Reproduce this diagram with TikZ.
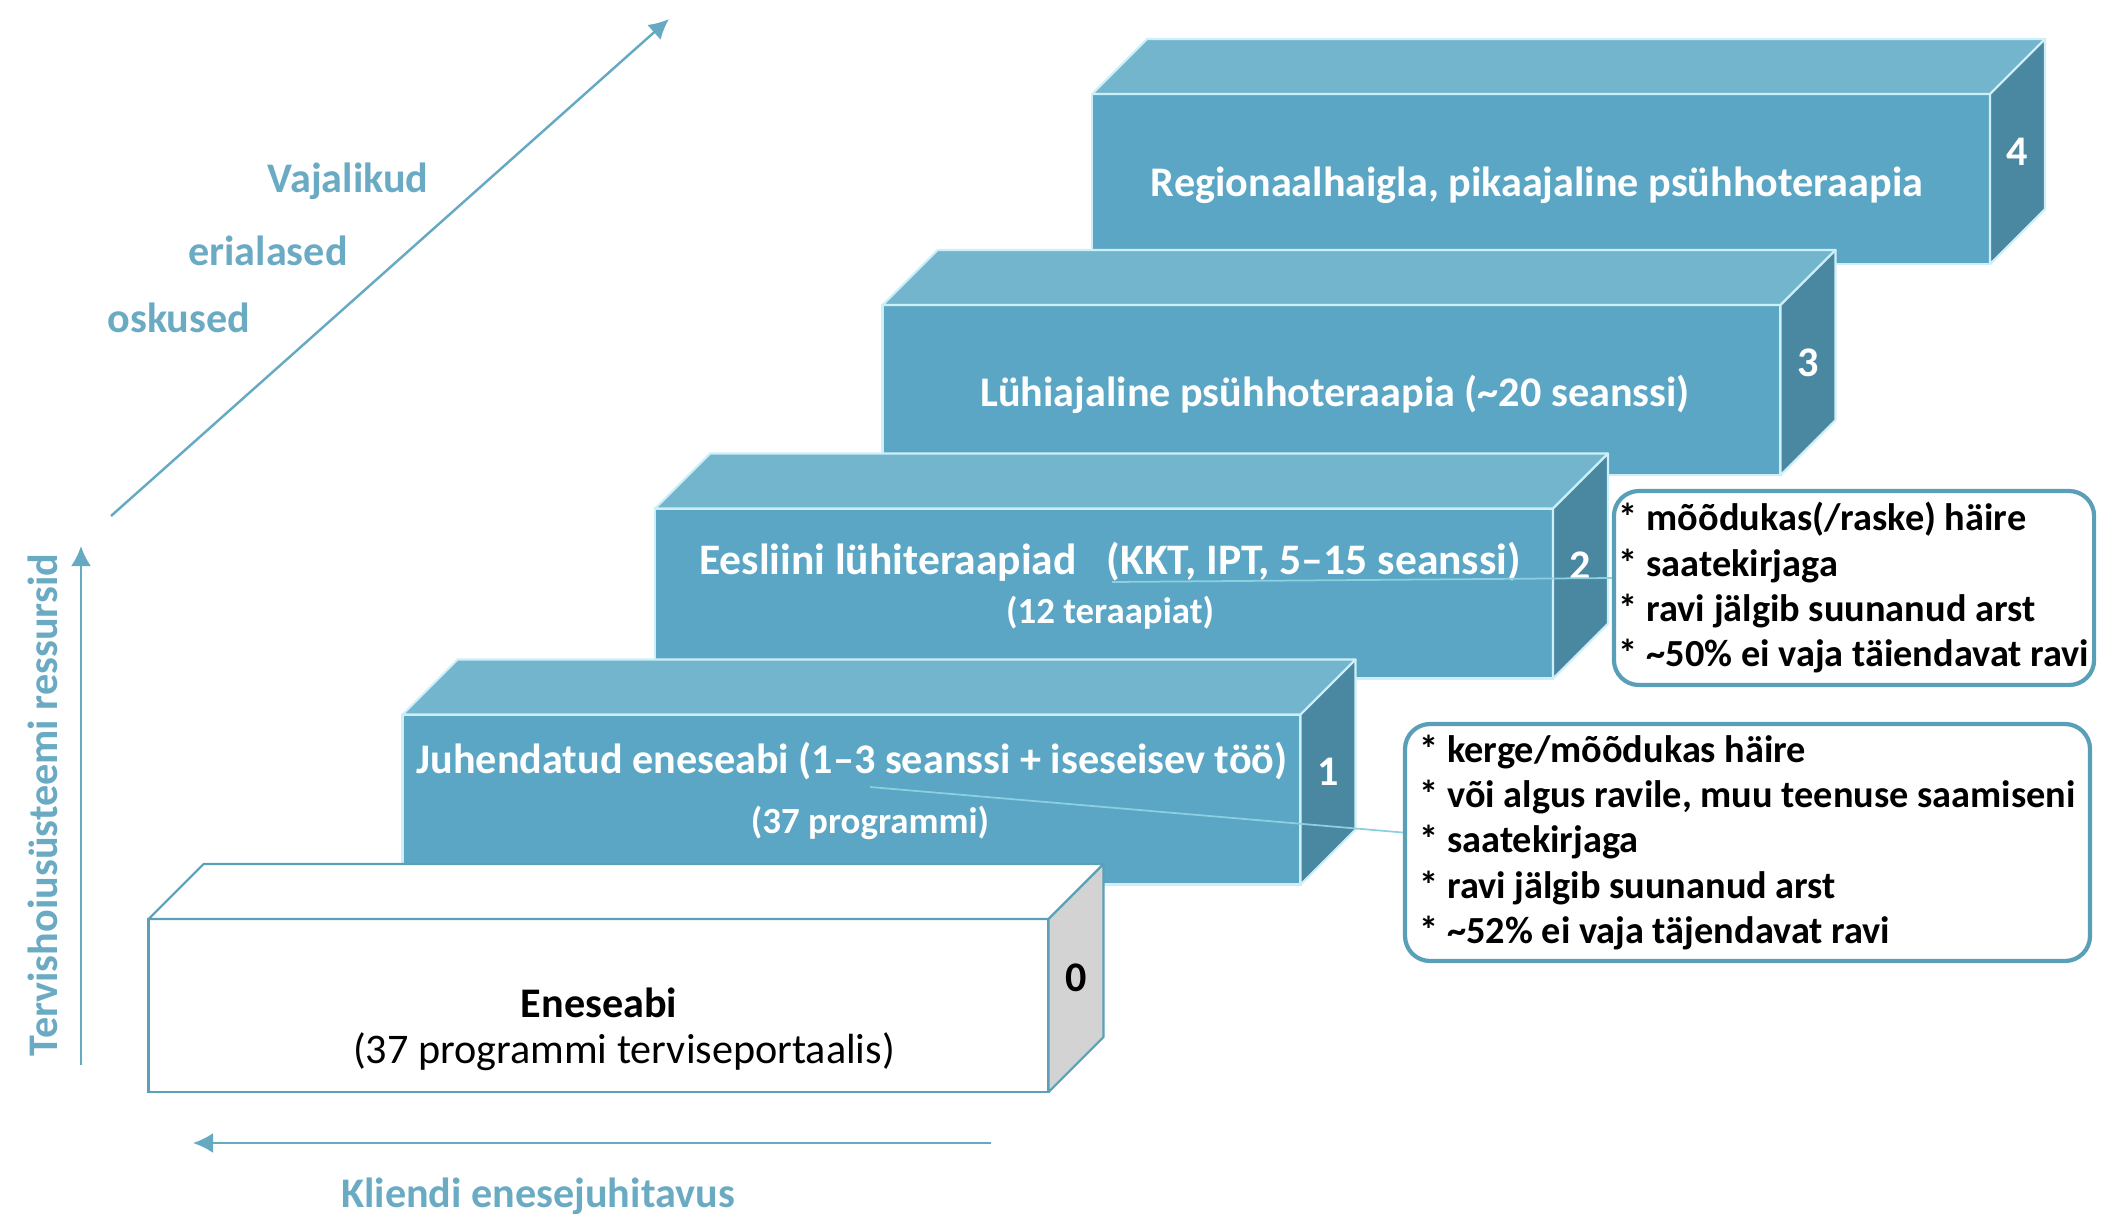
\documentclass[tikz,border=0pt]{standalone}
\usepackage{fontspec}
\setmainfont{Carlito}
\usepackage{xcolor}
\usepackage{tikz}
\usetikzlibrary{arrows.meta,positioning,calc}

\definecolor{stepfront}{HTML}{5AA6C4}
\definecolor{steptop}{HTML}{74B5CE}
\definecolor{stepside}{HTML}{4A88A2}
\definecolor{stepedge}{HTML}{CDEFF7}
\definecolor{zeroedge}{HTML}{5AA0B8}
\definecolor{zeroside}{HTML}{D3D3D3}
\definecolor{noteedge}{HTML}{5A9FB8}
\definecolor{axisline}{HTML}{65AAC2}
\definecolor{axistext}{HTML}{6AABC3}
\definecolor{linkline}{HTML}{8CCFE0}

\begin{document}
\begin{tikzpicture}[
    front/.style={rectangle, draw=stepedge, line width=0.6pt, fill=stepfront, minimum width=8.98cm, minimum height=1.70cm, outer sep=0pt, inner sep=0pt},
    topface/.style={draw=stepedge, line width=0.6pt, fill=steptop, line join=round},
    sideface/.style={draw=stepedge, line width=0.6pt, fill=stepside, line join=round},
    zerofront/.style={front, draw=zeroedge, fill=white},
    zerotop/.style={topface, draw=zeroedge, fill=white},
    zeroside/.style={sideface, draw=zeroedge, fill=zeroside},
    lvltext/.style={align=center, text=white, font=\bfseries\fontsize{12}{14}\selectfont},
    num/.style={text=white, font=\bfseries\fontsize{12}{14}\selectfont},
    note/.style={rectangle, draw=noteedge, line width=1.2pt, rounded corners=0.25cm, align=left, inner sep=0.05cm, fill=white, font=\bfseries\fontsize{10.9}{12.9}\selectfont},
    axis/.style={-{Latex[length=2mm,width=2mm]}, draw=axisline, line width=0.7pt},
    axislabel/.style={text=axistext, font=\bfseries\fontsize{12}{14}\selectfont},
    link/.style={draw=linkline, line width=0.5pt}
]
    \useasboundingbox (0,0) rectangle (21.14,12.17);

    % level 4
    \node[front] (b4) at (15.41,10.38) {};
    \draw[topface] (b4.north west) -- ++(0.55,0.55) -- ([shift={(0.55,0.55)}]b4.north east) -- (b4.north east) -- cycle;
    \draw[sideface] (b4.north east) -- ++(0.55,0.55) -- ([shift={(0.55,0.55)}]b4.south east) -- (b4.south east) -- cycle;
    \node[lvltext] (t4) at (15.37,10.32) {Regionaalhaigla, pikaajaline psühhoteraapia};
    \node[num] (n4) at ([shift={(0.275,0.275)}]b4.east) {4};

    % level 3
    \node[front] (b3) at (13.315,8.27) {};
    \draw[topface] (b3.north west) -- ++(0.55,0.55) -- ([shift={(0.55,0.55)}]b3.north east) -- (b3.north east) -- cycle;
    \draw[sideface] (b3.north east) -- ++(0.55,0.55) -- ([shift={(0.55,0.55)}]b3.south east) -- (b3.south east) -- cycle;
    \node[lvltext] (t3) at (13.35,8.23) {Lühiajaline psühhoteraapia (\textasciitilde20 seanssi)};
    \node[num] (n3) at ([shift={(0.275,0.275)}]b3.east) {3};

    % level 2
    \node[front] (b2) at (11.04,6.235) {};
    \draw[topface] (b2.north west) -- ++(0.55,0.55) -- ([shift={(0.55,0.55)}]b2.north east) -- (b2.north east) -- cycle;
    \draw[sideface] (b2.north east) -- ++(0.55,0.55) -- ([shift={(0.55,0.55)}]b2.south east) -- (b2.south east) -- cycle;
    \node[lvltext] (t2) at (11.10,6.31) {{\fontsize{12.4}{14}\selectfont Eesliini lühiteraapiad\hspace{0.3cm}(KKT, IPT, 5–15 seanssi)}\\[0pt]
        {\fontsize{10.5}{12}\selectfont (12 teraapiat)}};
    \node[num] (n2) at ([shift={(0.275,0.275)}]b2.east) {2};

    % level 1
    \node[front] (b1) at (8.515,4.175) {};
    \draw[topface] (b1.north west) -- ++(0.55,0.55) -- ([shift={(0.55,0.55)}]b1.north east) -- (b1.north east) -- cycle;
    \draw[sideface] (b1.north east) -- ++(0.55,0.55) -- ([shift={(0.55,0.55)}]b1.south east) -- (b1.south east) -- cycle;
    \node[lvltext] (t1) at (8.52,4.26) {Juhendatud eneseabi (1–3 seanssi + iseseisev töö)\\[3pt]
        {\fontsize{10.5}{12}\selectfont \hspace*{0.36cm}(37 programmi)}};
    \node[num] (n1) at ([shift={(0.275,0.275)}]b1.east) {1};

    % level 0
    \node[zerofront, minimum width=9.0cm, minimum height=1.73cm] (b0) at (5.985,2.115) {};
    \draw[zerotop] (b0.north west) -- ++(0.55,0.55) -- ([shift={(0.55,0.55)}]b0.north east) -- (b0.north east) -- cycle;
    \draw[zeroside] (b0.north east) -- ++(0.55,0.55) -- ([shift={(0.55,0.55)}]b0.south east) -- (b0.south east) -- cycle;
    \node[align=center, font=\fontsize{12}{13}\selectfont] (t0) at (5.99,1.88) {\textbf{Eneseabi}\\
        \hspace*{0.5cm}(37 programmi terviseportaalis)};
    \node[num, text=black] (n0) at ([shift={(0.275,0.275)}]b0.east) {0};

    % notes
    \node[note, minimum width=4.80cm, minimum height=1.94cm] (c2) at (18.54,6.29) {%
        {*} mõõdukas(/raske) häire\\
        {*} saatekirjaga\\
        {*} ravi jälgib suunanud arst\\
        {*} \textasciitilde50\% ei vaja täiendavat ravi};
    \node[note, minimum width=6.85cm, minimum height=2.37cm] (c1) at (17.475,3.745) {%
        {*} kerge/mõõdukas häire\\
        {*} või algus ravile, muu teenuse saamiseni\\
        {*} saatekirjaga\\
        {*} ravi jälgib suunanud arst\\
        {*} \textasciitilde52\% ei vaja täjendavat ravi};

    \coordinate (k2) at (11.12,6.35);
    \coordinate (k1) at (8.70,4.30);
    \draw[link] (k2) -- ([yshift=1mm]c2.west);
    \draw[link] (k1) -- ([yshift=1mm]c1.west);

    % axes
    \coordinate (d0) at (1.11,7.01);
    \coordinate (d1) at (6.69,11.98);
    \coordinate (v0) at (0.81,1.52);
    \coordinate (v1) at (0.81,6.71);
    \coordinate (h0) at (9.91,0.74);
    \coordinate (h1) at (1.93,0.74);
    \draw[axis] (d0) -- (d1);
    \draw[axis] (v0) -- (v1);
    \draw[axis] (h0) -- (h1);

    \node[axislabel] (s1) at (3.48,10.36) {Vajalikud};
    \node[axislabel] (s2) at (2.68,9.66) {erialased};
    \node[axislabel] (s3) at (1.79,8.99) {oskused};
    \node[axislabel, rotate=90] (ylab) at (0.43,4.12) {Tervishoiusüsteemi ressursid};
    \node[axislabel] (xlab) at (5.38,0.21) {Kliendi enesejuhitavus};
\end{tikzpicture}
\end{document}
